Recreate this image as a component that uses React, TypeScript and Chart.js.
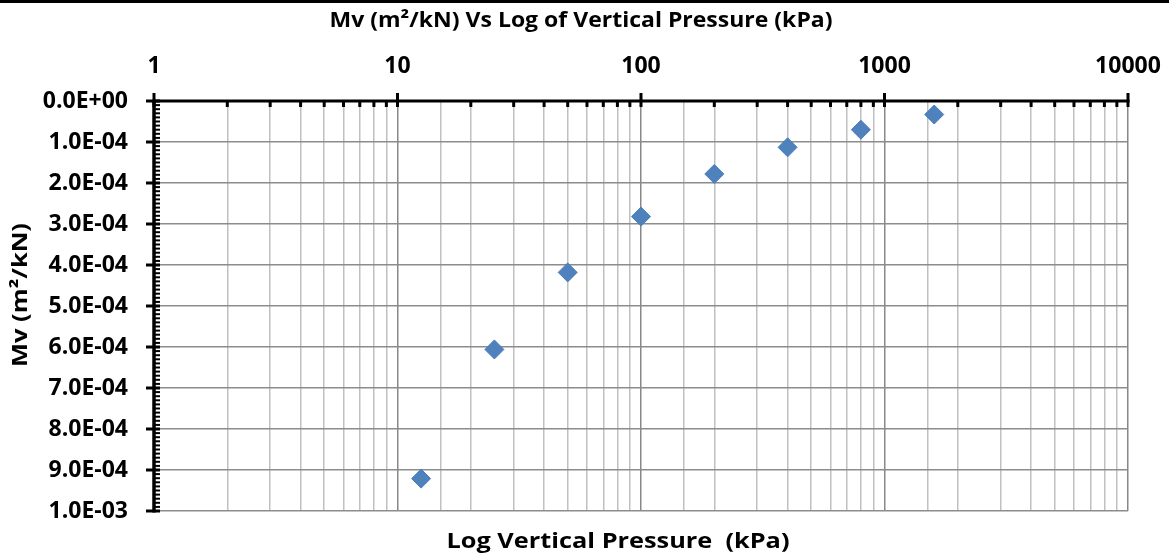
import React, { useEffect, useRef } from "react";
import { Chart, registerables } from "chart.js";

Chart.register(...registerables);

// ---- Data ----
const pressureKPa: number[] = [12.5, 25, 50, 100, 200, 400, 800, 1600];
const mvValues: number[] = [9.21e-4, 6.06e-4, 4.18e-4, 2.82e-4, 1.78e-4, 1.13e-4, 0.7e-4, 0.33e-4];

const xMin = 1;
const xMax = 10000;
const yMin = 0;
const yMax = 0.001;
const yMajorStep = 0.0001;
const yMinorStep = 0.00001;

const chartTitle = "Mv (m²/kN) Vs Log of Vertical Pressure (kPa)";
const xAxisTitle = "Log Vertical Pressure  (kPa)";
const yAxisTitle = "Mv (m²/kN)";

const FONT_FAMILY = "'Open Sans', Lato, 'Noto Sans', sans-serif";
const TICK_FONT_SIZE = 23;
const MARKER_FILL = "#4F81BD";
const MARKER_BORDER = "#4A7EBB";

function isDecade(v: number): boolean {
  const l = Math.log10(v);
  return Math.abs(l - Math.round(l)) < 1e-9;
}

function sci(v: number): string {
  if (Math.abs(v) < 1e-12) return "0.0E+00";
  let e = Math.floor(Math.log10(Math.abs(v)) + 1e-9);
  let ms = (v / Math.pow(10, e)).toFixed(1);
  if (ms === "10.0") {
    e += 1;
    ms = "1.0";
  }
  const sign = e < 0 ? "-" : "+";
  return ms + "E" + sign + String(Math.abs(e)).padStart(2, "0");
}

function drawWideText(
  ctx: CanvasRenderingContext2D,
  text: string,
  cx: number,
  cy: number,
  width: number,
  rotate: boolean
) {
  ctx.save();
  ctx.font = "bold 21px " + FONT_FAMILY;
  ctx.textAlign = "center";
  ctx.textBaseline = "alphabetic";
  const natural = ctx.measureText(text).width || 1;
  ctx.translate(cx, cy);
  if (rotate) ctx.rotate(-Math.PI / 2);
  ctx.scale(width / natural, 1);
  ctx.fillText(text, 0, 0);
  ctx.restore();
}

const decorPlugin = {
  id: "excelDecor",
  beforeDraw(chart: any) {
    const ctx = chart.ctx as CanvasRenderingContext2D;
    ctx.save();
    ctx.fillStyle = "#ffffff";
    ctx.fillRect(0, 0, chart.width, chart.height);
    ctx.fillStyle = "#000000";
    ctx.fillRect(0, 0, chart.width, 3);
    ctx.restore();
  },
  afterDraw(chart: any) {
    const ctx = chart.ctx as CanvasRenderingContext2D;
    const xs = chart.scales.x;
    const ys = chart.scales.y;
    const area = chart.chartArea;
    ctx.save();
    ctx.strokeStyle = "#000000";
    ctx.lineCap = "butt";

    // top axis line
    const xl = xs.getPixelForValue(xMin);
    const xr = xs.getPixelForValue(xMax);
    const top = area.top;
    ctx.lineWidth = 3;
    ctx.beginPath();
    ctx.moveTo(xl - 1.5, top);
    ctx.lineTo(xr + 1.5, top);
    ctx.stroke();

    // top axis ticks
    for (let d = xMin; d <= xMax; d *= 10) {
      for (let k = 1; k <= 9; k++) {
        const v = d * k;
        if (v > xMax) break;
        const px = xs.getPixelForValue(v);
        ctx.beginPath();
        ctx.lineWidth = 3;
        if (k === 1) {
          ctx.moveTo(px, top - 8);
          ctx.lineTo(px, top + 6);
        } else {
          ctx.moveTo(px, top);
          ctx.lineTo(px, top + 6);
        }
        ctx.stroke();
      }
    }

    // left axis line
    const left = area.left;
    const yt = ys.getPixelForValue(yMin);
    const yb = ys.getPixelForValue(yMax);
    ctx.lineWidth = 3.5;
    ctx.beginPath();
    ctx.moveTo(left, yt);
    ctx.lineTo(left, yb + 1.5);
    ctx.stroke();

    // left axis ticks
    const nMinor = Math.round((yMax - yMin) / yMinorStep);
    const per = Math.round(yMajorStep / yMinorStep);
    for (let i = 0; i <= nMinor; i++) {
      const v = yMin + i * yMinorStep;
      const py = ys.getPixelForValue(v);
      ctx.beginPath();
      if (i % per === 0) {
        ctx.lineWidth = 3;
        ctx.moveTo(left - 8, py);
        ctx.lineTo(left + 6, py);
      } else {
        ctx.lineWidth = 2;
        ctx.moveTo(left, py);
        ctx.lineTo(left + 6, py);
      }
      ctx.stroke();
    }
    ctx.restore();

    // titles
    ctx.save();
    ctx.fillStyle = "#000000";
    drawWideText(ctx, chartTitle, 581, 27, 503, false);
    drawWideText(ctx, xAxisTitle, 618, 548, 343, false);
    drawWideText(ctx, yAxisTitle, 27, 295, 144, true);
    ctx.restore();
  },
};

export default function App() {
  const canvasRef = useRef<HTMLCanvasElement | null>(null);

  useEffect(() => {
    const canvas = canvasRef.current;
    if (!canvas) return;
    const chart = new Chart(canvas, {
      type: "scatter",
      data: {
        datasets: [
          {
            label: "Mv",
            data: pressureKPa.map((p, i) => ({ x: p, y: mvValues[i] })),
            pointStyle: "rectRot",
            pointRadius: 9.5,
            pointHoverRadius: 9.5,
            backgroundColor: MARKER_FILL,
            borderColor: MARKER_BORDER,
            borderWidth: 1,
            showLine: false,
          },
        ],
      },
      options: {
        responsive: false,
        animation: false,
        events: [],
        layout: { padding: { top: 32, right: 41, bottom: 47, left: 0 } },
        plugins: {
          legend: { display: false },
          tooltip: { enabled: false },
          title: { display: false },
        },
        scales: {
          x: {
            type: "logarithmic",
            position: "top",
            min: xMin,
            max: xMax,
            border: { display: false },
            grid: {
              drawTicks: true,
              tickLength: 19,
              tickColor: "rgba(0,0,0,0)",
              color: (c: any) => (c.tick && isDecade(c.tick.value) ? "#888888" : "#c0c0c0"),
              lineWidth: 1.5,
            },
            ticks: {
              autoSkip: false,
              maxRotation: 0,
              minRotation: 0,
              padding: 2,
              color: "#000000",
              font: { family: FONT_FAMILY, size: TICK_FONT_SIZE, weight: "bold" },
              callback: (value: any) => {
                const v = Number(value);
                return isDecade(v) ? String(Math.round(v)) : "";
              },
            },
            afterFit: (s: any) => {
              s.height = 69;
            },
          },
          y: {
            type: "linear",
            reverse: true,
            min: yMin,
            max: yMax,
            border: { display: false },
            grid: {
              drawTicks: false,
              color: "#8c8c8c",
              lineWidth: 1.5,
            },
            ticks: {
              stepSize: yMajorStep,
              padding: 26,
              color: "#000000",
              font: { family: FONT_FAMILY, size: TICK_FONT_SIZE, weight: "bold" },
              callback: (value: any) => sci(Number(value)),
            },
            afterFit: (s: any) => {
              s.width = 154;
            },
          },
        },
      },
      plugins: [decorPlugin],
    } as any);

    const fonts: any = (document as any).fonts;
    if (fonts && fonts.load) {
      fonts.load("bold 20px 'Open Sans'").then(() => chart.update()).catch(() => {});
    }

    return () => {
      chart.destroy();
    };
  }, []);

  return (
    <div
      style={{
        position: "fixed",
        left: 0,
        top: 0,
        width: 1169,
        height: 558,
        background: "#ffffff",
      }}
    >
      <canvas ref={canvasRef} width={1169} height={558} style={{ display: "block" }} />
    </div>
  );
}
